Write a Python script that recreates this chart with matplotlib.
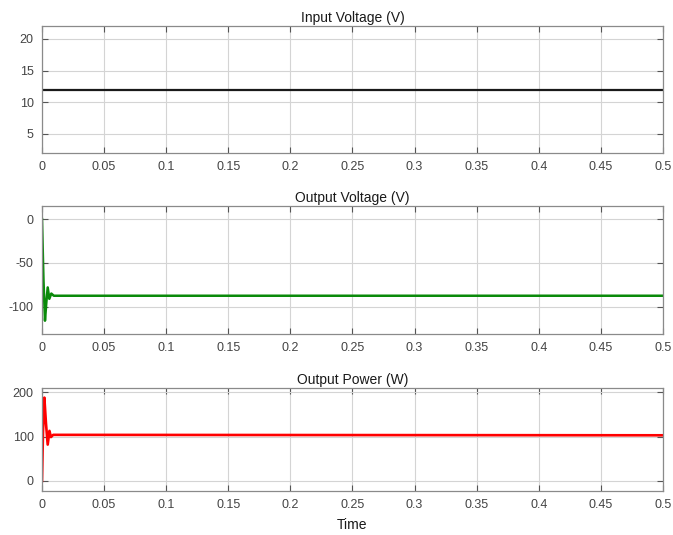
import matplotlib
matplotlib.use("Agg")
import matplotlib.pyplot as plt

plt.rcParams['font.family'] = ['Liberation Sans', 'DejaVu Sans']
plt.rcParams['axes.unicode_minus'] = False

# time ticks shared by all panels
t_ticks = [0, 0.05, 0.1, 0.15, 0.2, 0.25, 0.3, 0.35, 0.4, 0.45, 0.5]
t_labels = ['0', '0.05', '0.1', '0.15', '0.2', '0.25', '0.3', '0.35', '0.4', '0.45', '0.5']

# input voltage (constant)
t_in = [0, 0.5]
v_in = [12, 12]

# output voltage
t_vout = [0, 0.0012, 0.0024, 0.0035, 0.0046, 0.0059, 0.0075, 0.0095, 0.5]
v_vout = [0, -70, -116, -95, -78, -91, -85, -87.5, -87.5]

# output power
t_pout = [0, 0.0008, 0.0019, 0.0032, 0.0046, 0.0060, 0.0072, 0.0090, 0.5]
p_pout = [0, 110, 188, 130, 82, 113, 99, 104, 103]

panels = [
    ("Input Voltage (V)", t_in, v_in, "#1a1a1a", (2, 22), [5, 10, 15, 20], 1.6),
    ("Output Voltage (V)", t_vout, v_vout, "#0a8a0a", (-131, 15), [-100, -50, 0], 1.8),
    ("Output Power (W)", t_pout, p_pout, "#ff0000", (-23, 210), [0, 100, 200], 1.9),
]

# [left, bottom, width, height] in figure fraction
boxes = [
    [0.0624, 0.714, 0.9226, 0.237],
    [0.0624, 0.376, 0.9226, 0.239],
    [0.0624, 0.082, 0.9226, 0.193],
]

fig = plt.figure(figsize=(6.73, 5.35), dpi=100)

for (title, t, y, col, ylim, yt, lw), box in zip(panels, boxes):
    ax = fig.add_axes(box)
    ax.plot(t, y, color=col, linewidth=lw)
    ax.set_xlim(0, 0.5)
    ax.set_ylim(*ylim)
    ax.set_xticks(t_ticks)
    ax.set_xticklabels(t_labels)
    ax.set_yticks(yt)
    ax.grid(True, color="#d4d4d4", linewidth=0.8)
    ax.set_axisbelow(True)
    ax.tick_params(direction="in", top=True, right=True, length=4,
                   color="#555555", labelcolor="#444444", labelsize=9, pad=6)
    for s in ax.spines.values():
        s.set_color("#8a8a8a")
        s.set_linewidth(0.9)
    ax.set_title(title, fontsize=10, color="#1a1a1a", pad=3)

ax.set_xlabel("Time", fontsize=10, color="#1a1a1a", labelpad=5)

fig.savefig("out.png", dpi=100)
